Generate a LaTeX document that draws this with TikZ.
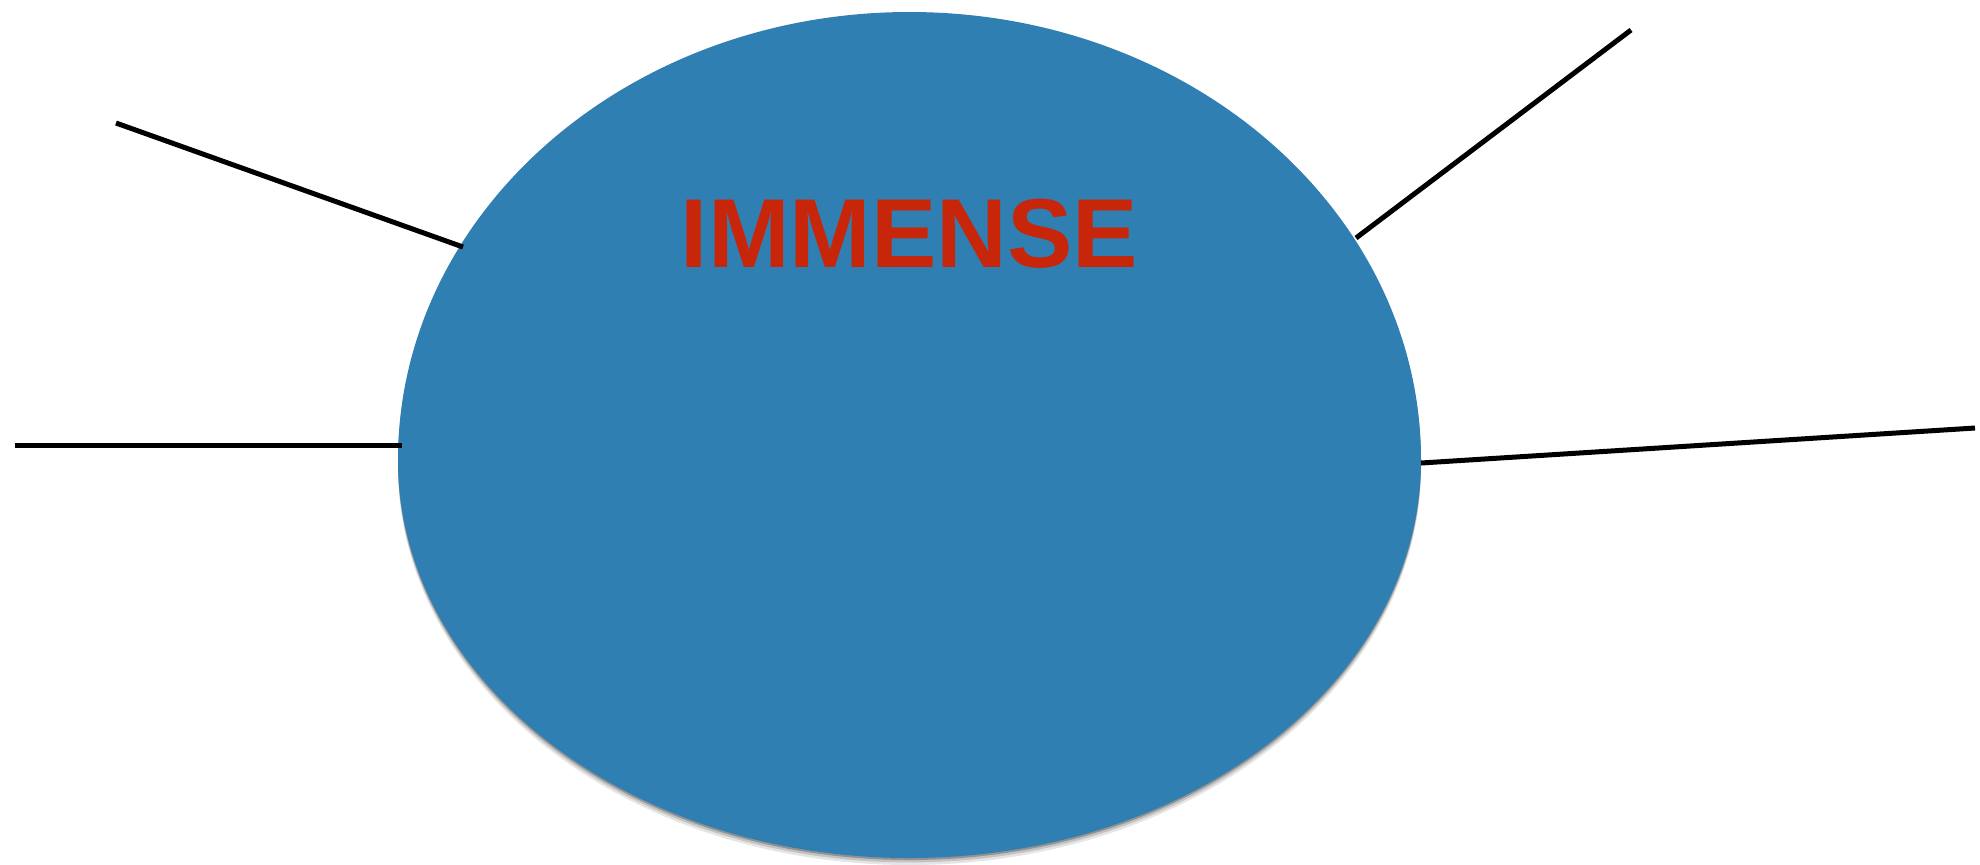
\documentclass[tikz,border=0pt]{standalone}
\usepackage{fontspec}
\newfontfamily\headfont{Liberation Sans}
\definecolor{blobblue}{RGB}{47,127,178}
\definecolor{headred}{RGB}{200,38,10}

\begin{document}
\begin{tikzpicture}[
  x=0.5pt, y=-0.5pt,
  blob/.style={fill=blobblue,
    preaction={fill=black, opacity=0.10, transform canvas={yshift=-3.5pt}},
    preaction={fill=black, opacity=0.15, transform canvas={yshift=-2.2pt}},
    preaction={fill=black, opacity=0.25, transform canvas={yshift=-1pt}}},
  spoke/.style={line width=2.5pt, black},
  headline/.style={font=\headfont\bfseries\fontsize{49}{51}\selectfont, text=headred, inner sep=0pt}
]
  \useasboundingbox (0,0) rectangle (1980,864);
  % the egg: narrower above its widest line than below it
  \path[blob] (398,460) arc[start angle=180, end angle=360, x radius=511.5, y radius=448]
    arc[start angle=0, end angle=180, x radius=511.5, y radius=398] -- cycle;
  \node[headline, anchor=base] (word) at (909.5,267) {IMMENSE};
  % where the lines meet the egg
  \coordinate (egg-nw) at (463,247);
  \coordinate (egg-w) at (402,445);
  \coordinate (egg-ne) at (1356,238);
  \coordinate (egg-e) at (1421,463);
  % free ends of the lines
  \coordinate (nw) at (116,123);
  \coordinate (w) at (15,445);
  \coordinate (ne) at (1631,30);
  \coordinate (e) at (1975,428);
  \draw[spoke] (nw) -- (egg-nw);
  \draw[spoke] (w) -- (egg-w);
  \draw[spoke] (ne) -- (egg-ne);
  \draw[spoke] (e) -- (egg-e);
\end{tikzpicture}
\end{document}
